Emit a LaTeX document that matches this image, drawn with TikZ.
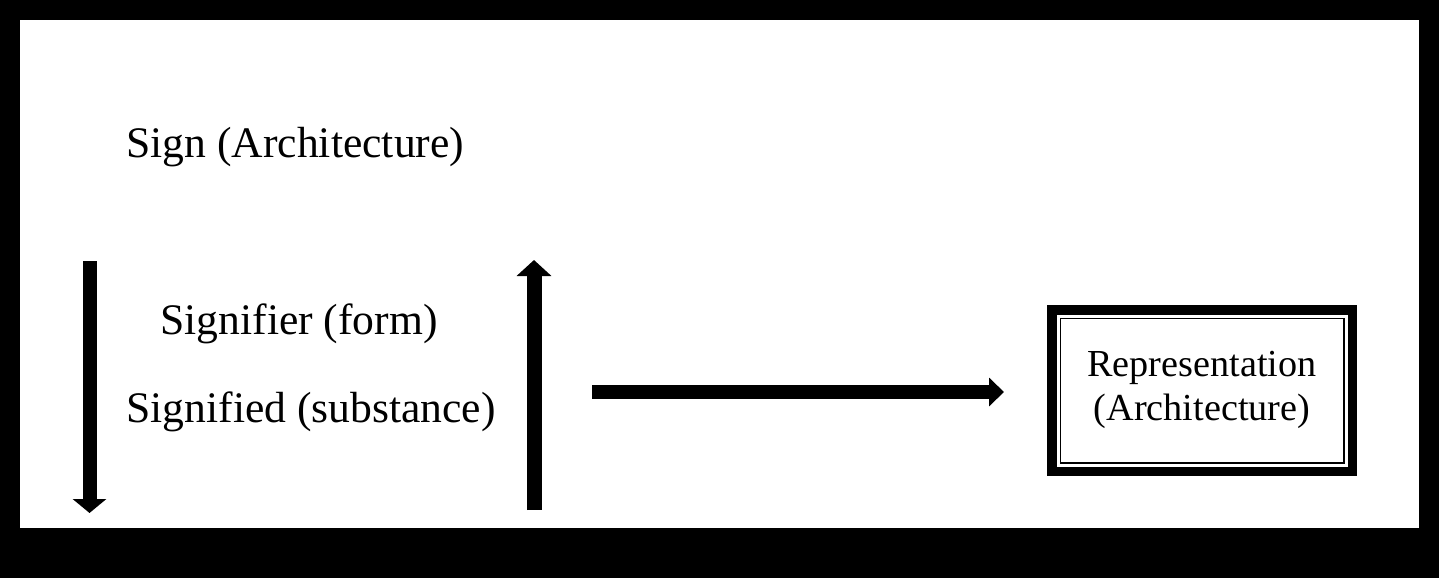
\documentclass[tikz,border=0pt]{standalone}
\usepackage{fontspec}
\setmainfont{Liberation Serif}
\usetikzlibrary{arrows.meta}
\tikzset{
  lbl/.style={inner sep=0pt, anchor=base west, font=\fontsize{21.8pt}{26pt}\selectfont},
  boxlbl/.style={inner sep=0pt, anchor=base, font=\fontsize{19.1pt}{23pt}\selectfont},
  bigarrow/.style={line width=7pt, -{Triangle[width=16.5pt,length=7pt]}},
  frame/.style={draw, line width=4.75pt, minimum width=150.25pt, minimum height=80.75pt, inner sep=0pt}
}
\begin{document}
\begin{tikzpicture}[x=0.5pt,y=-0.5pt]
\useasboundingbox (0,0) rectangle (1439,578);
\fill[black] (0,0) rectangle (1439,578);
\fill[white] (20,20) rectangle (1419,528);

\node[lbl] (sign) at (126,157) {Sign (Architecture)};
\node[lbl] (signifier) at (160,334) {Signifier (form)};
\node[lbl] (signified) at (126,422) {Signified (substance)};

\coordinate (d1) at (89.5,261);
\coordinate (d2) at (89.5,513);
\draw[bigarrow] (d1) -- (d2);

\coordinate (u1) at (534,510);
\coordinate (u2) at (534,260);
\draw[line width=7.5pt, -{Triangle[width=17pt,length=8pt]}] (u1) -- (u2);

\node[frame] (rep) at (1202,390.5) {};
\draw[line width=0.9pt] ([shift={(6.7pt,-6.7pt)}]rep.north west) rectangle ([shift={(-6.7pt,6.7pt)}]rep.south east);
\node[boxlbl] (repa) at (1202,376) {Representation};
\node[boxlbl] (repb) at (1202,420) {(Architecture)};

\coordinate (h1) at (592,392);
\coordinate (h2) at (1004,392);
\draw[line width=7pt, -{Triangle[width=14pt,length=7.5pt]}] (h1) -- (h2);
\end{tikzpicture}
\end{document}
